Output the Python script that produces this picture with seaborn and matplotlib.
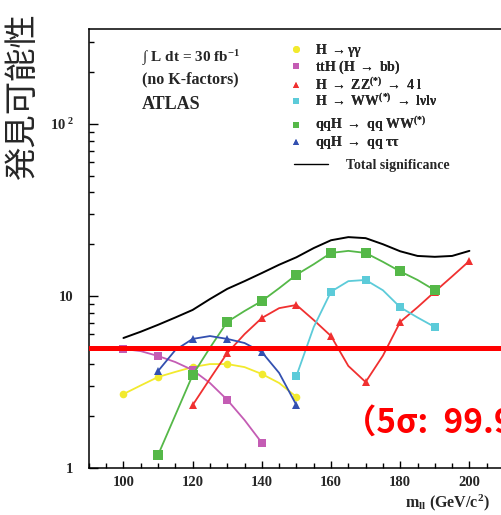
import matplotlib.pyplot as plt
import seaborn as sns
from matplotlib.lines import Line2D
from matplotlib.ticker import MultipleLocator, FixedLocator, FixedFormatter, LogLocator, NullFormatter

# -------------------------------
# Data (5 GeV steps, markers every 10 GeV)
# -------------------------------
m_gg = [100, 105, 110, 115, 120, 125, 130, 135, 140, 145, 150]
s_gg = [2.69, 3.02, 3.38, 3.62, 3.86, 4.02, 4.02, 3.86, 3.52, 3.12, 2.59]

m_tth = [100, 105, 110, 115, 120, 125, 130, 135, 140]
s_tth = [4.92, 4.78, 4.48, 4.13, 3.71, 3.12, 2.49, 1.90, 1.40]

m_zz = [120, 125, 130, 135, 140, 145, 150, 155, 160, 165, 170, 175, 180, 185, 190, 195, 200]
s_zz = [2.32, 3.30, 4.66, 6.00, 7.45, 8.50, 8.87, 7.25, 5.85, 3.92, 3.16, 4.50, 7.07, 8.60, 10.6, 13.0, 16.0]

m_ww = [150, 155, 160, 165, 170, 175, 180, 185, 190]
s_ww = [3.43, 6.60, 10.6, 12.2, 12.4, 10.8, 8.60, 7.50, 6.60]

m_qqww = [110, 115, 120, 125, 130, 135, 140, 145, 150, 155, 160, 165, 170, 175, 180, 185, 190]
s_qqww = [1.19, 2.03, 3.47, 5.00, 7.07, 8.18, 9.35, 11.1, 13.3, 15.3, 17.8, 18.3, 17.8, 15.8, 13.9, 12.4, 10.8]

m_qqtt = [110, 115, 120, 125, 130, 135, 140, 145, 150]
s_qqtt = [3.66, 4.85, 5.63, 5.85, 5.63, 5.33, 4.72, 3.57, 2.32]

m_total = [100, 105, 110, 115, 120, 125, 130, 135, 140, 145, 150, 155, 160,
           165, 170, 175, 180, 185, 190, 195, 200]
s_total = [5.7, 6.2, 6.8, 7.5, 8.3, 9.6, 11.0, 12.2, 13.6, 15.2, 16.8, 19.0, 21.1,
           22.0, 21.7, 20.0, 18.2, 17.1, 16.9, 17.1, 18.3]

five_sigma = 5

labels = [r"H $\rightarrow\gamma\gamma$",
          r"ttH (H $\rightarrow$ bb)",
          r"H $\rightarrow$ ZZ$^{(*)}$ $\rightarrow$ 4 l",
          r"H $\rightarrow$ WW$^{(*)}$ $\rightarrow$ l$\nu$l$\nu$",
          r"qqH $\rightarrow$ qq WW$^{(*)}$",
          r"qqH $\rightarrow$ qq $\tau\tau$"]
colors = ["#f2ea2e", "#c45cb4", "#f03030", "#5ccbd9", "#55b848", "#3350b0"]
markers = ["o", "s", "^", "s", "s", "^"]
msizes = [5.5, 5.5, 5.5, 6, 6.5, 5.5]
series = [(m_gg, s_gg), (m_tth, s_tth), (m_zz, s_zz),
          (m_ww, s_ww), (m_qqww, s_qqww), (m_qqtt, s_qqtt)]

# -------------------------------
# Style
# -------------------------------
sns.set_style("ticks")
plt.rcParams["font.family"] = ["Liberation Serif", "DejaVu Serif"]
plt.rcParams["font.weight"] = "bold"
plt.rcParams["mathtext.fontset"] = "custom"
plt.rcParams["mathtext.rm"] = "Liberation Serif:bold"
plt.rcParams["mathtext.it"] = "Liberation Serif:italic:bold"
plt.rcParams["mathtext.bf"] = "Liberation Serif:bold"
plt.rcParams["mathtext.default"] = "regular"

fig = plt.figure(figsize=(5.02, 5.15), dpi=100)
ax = fig.add_axes([0.177, 0.0913, 0.827, 0.852])

for (mx, sy), c, mk, ms in zip(series, colors, markers, msizes):
    sns.lineplot(x=mx, y=sy, color=c, marker=mk, markersize=ms, markevery=2,
                 markeredgewidth=0, linewidth=1.3, estimator=None, sort=False, ax=ax)

sns.lineplot(x=m_total, y=s_total, color="black", linewidth=1.4,
             estimator=None, sort=False, ax=ax)

ax.axhline(five_sigma, color="#ff0000", linewidth=3.6, zorder=5)

ax.set_yscale("log")
ax.set_xlim(90, 210)
ax.set_ylim(1, 356)

# ticks
ax.xaxis.set_major_locator(MultipleLocator(20))
ax.xaxis.set_minor_locator(MultipleLocator(5))
ax.yaxis.set_major_locator(FixedLocator([1, 10, 100]))
ax.yaxis.set_major_formatter(FixedFormatter(["1", "10", r"10$^{\ 2}$"]))
ax.yaxis.set_minor_locator(LogLocator(base=10, subs=range(2, 10)))
ax.yaxis.set_minor_formatter(NullFormatter())
ax.tick_params(axis="both", which="both", direction="in", color="black", width=1)
ax.tick_params(axis="x", which="major", length=5, pad=6, labelsize=10.5)
ax.tick_params(axis="x", which="minor", length=3.5)
ax.tick_params(axis="y", which="major", length=6.5, pad=11, labelsize=10.5)
ax.tick_params(axis="y", which="minor", length=3.5)
ax.set_xlabel("")
ax.set_ylabel("")
for side in ["left", "bottom", "top", "right"]:
    ax.spines[side].set_color("black")
    ax.spines[side].set_linewidth(1.1)

# -------------------------------
# Legends
# -------------------------------
handles = [Line2D([], [], ls="none", marker=mk, color=c, markersize=5, markeredgewidth=0)
           for c, mk in zip(colors, markers)]
leg_kw = dict(loc="upper left", frameon=False, fontsize=10, handlelength=0.7,
              handletextpad=1.0, labelspacing=0.0, borderpad=0, borderaxespad=0)
leg1 = fig.legend(handles[:4], labels[:4], bbox_to_anchor=(0.58, 0.919), **leg_kw)
leg2 = fig.legend(handles[4:], labels[4:], bbox_to_anchor=(0.58, 0.777), **leg_kw)
fig.add_artist(leg1)
leg3 = fig.legend([Line2D([], [], color="black", lw=1)], ["Total significance"],
                  loc="upper left", bbox_to_anchor=(0.585, 0.692), frameon=False,
                  fontsize=10, handlelength=2.5, handletextpad=1.3,
                  borderpad=0, borderaxespad=0)
fig.add_artist(leg2)

# -------------------------------
# Texts
# -------------------------------
fig.text(0.283, 0.887, r"$\int$ L dt = 30 fb$^{-1}$", fontsize=11, va="center")
fig.text(0.283, 0.846, "(no K-factors)", fontsize=11.5, va="center")
fig.text(0.283, 0.798, "ATLAS", fontsize=13, va="center")

fig.text(405 / 502, 1 - 503 / 515, r"m$_{ll}$ (GeV/c$^{2}$)", fontsize=11.5, va="center")

fig.text(22 / 502, 0.814, "発見可能性", rotation=90, fontsize=24, va="center", ha="center",
         family=["Noto Sans CJK JP", "DejaVu Sans"], weight="normal")

fig.text(343 / 502, 1 - 433 / 515, "（5σ:  99.99994%）", fontsize=24, color="#ff0000",
         weight="bold", va="baseline", family=["Noto Sans CJK JP", "DejaVu Sans"])

fig.savefig("out.png", dpi=100)
